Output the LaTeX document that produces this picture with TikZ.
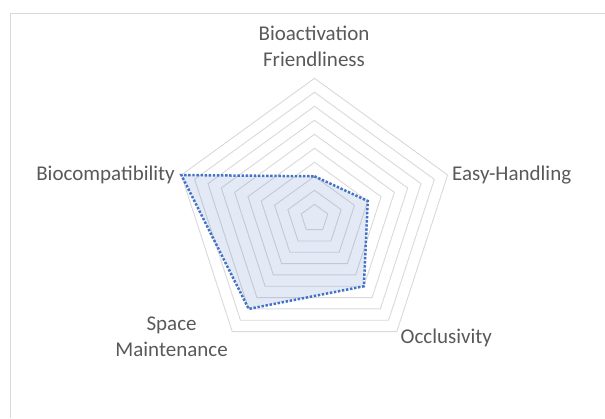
\documentclass[tikz,border=0pt]{standalone}
\usepackage{fontspec}
\setmainfont{Carlito}
\usetikzlibrary{positioning}

\definecolor{gridgray}{RGB}{217,217,217}
\definecolor{labelgray}{RGB}{89,89,89}
\definecolor{seriesblue}{RGB}{68,114,196}

\tikzset{
  ring/.style={draw=gridgray, line width=0.9pt},
  series/.style={draw=seriesblue, line width=2.5pt, dash pattern=on 2.4pt off 1.7pt,
    fill=seriesblue, fill opacity=0.15},
  axislabel/.style={font=\fontsize{21}{26}\selectfont, text=labelgray,
    inner sep=0pt, align=center}
}

\begin{document}
\begin{tikzpicture}[x=1pt, y=1pt]
  \useasboundingbox (0,0) rectangle (605,418);
  % Frame
  \draw[gridgray, line width=1pt] (10,0) -- (10,404.7) -- (605,404.7);

  \begin{scope}[shift={(314.5,199.7)}]
    % Rings
    \foreach \r in {1,...,10}
      \draw[ring] (90:\r*14) -- (18:\r*14) -- (-54:\r*14) -- (-126:\r*14) -- (162:\r*14) -- cycle;
    % Axis ends
    \coordinate (bioact) at (90:140);
    \coordinate (easy) at (18:140);
    \coordinate (occl) at (-54:140);
    \coordinate (space) at (-126:140);
    \coordinate (biocomp) at (162:140);
    % Series
    \draw[series] (90:3*14) -- (18:4*14) -- (-54:6*14) -- (-126:8*14) -- (162:10*14) -- cycle;
  \end{scope}

  % Labels
  \node (bioactlabel) [axislabel, anchor=south] at (314,351.3) {Bioactivation\\Friendliness};
  \node (easylabel) [axislabel, anchor=base west] at (452,237.3) {Easy-Handling};
  \node (occllabel) [axislabel, anchor=base west] at (400.4,74.7) {Occlusivity};
  \node (spacelabel) [axislabel, anchor=south] at (171.6,60.7) {Space\\Maintenance};
  \node (biocomplabel) [axislabel, anchor=base east] at (175,237.3) {Biocompatibility};
\end{tikzpicture}
\end{document}
